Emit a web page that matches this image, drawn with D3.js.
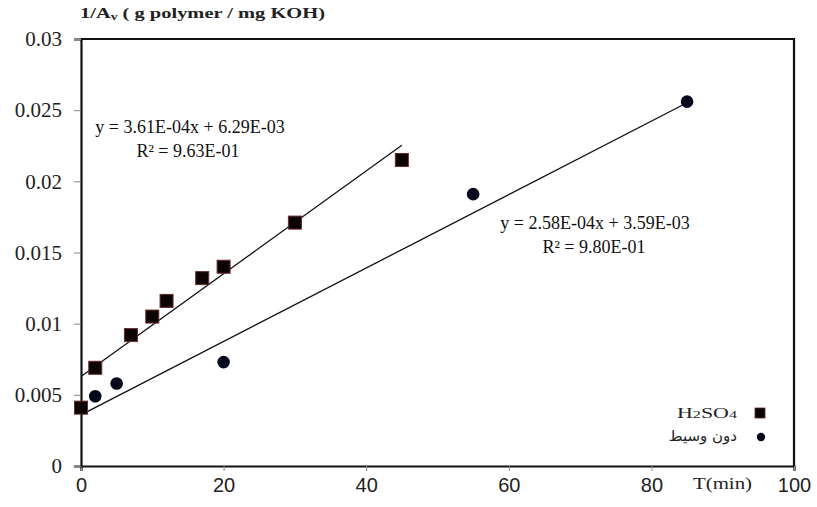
<!DOCTYPE html>
<html>
<head>
<meta charset="utf-8">
<script src="https://cdn.jsdelivr.net/npm/d3@7/dist/d3.min.js"></script>
<style>
  body { margin: 0; background: #fff; }
  svg { display: block; }
</style>
</head>
<body>
<svg id="chart" width="817" height="507"></svg>
<script>
// data
var acidX = [0, 2, 7, 10, 12, 17, 20, 30, 45];
var acidY = [0.0041, 0.0069, 0.0092, 0.0105, 0.0116, 0.0132, 0.0140, 0.0171, 0.0215];
var plainX = [0, 2, 5, 20, 55, 85];
var plainY = [0.0041, 0.0049, 0.0058, 0.0073, 0.0191, 0.0256];

// trend lines: [slope, intercept, xFrom, xTo]
var acidFit = [3.61e-4, 6.29e-3, 0, 45];
var plainFit = [2.58e-4, 3.59e-3, 0, 85];

var xTicks = [0, 20, 40, 60, 80, 100];
var yTicks = [0, 0.005, 0.01, 0.015, 0.02, 0.025, 0.03];
var seriesNames = ["H2SO4", "دون وسيط"];

var svg = d3.select("#chart");
var margin = {left: 81, right: 23, top: 39, bottom: 41};
var W = 817, H = 507;
var serif = "Liberation Serif, Times New Roman, serif";

var x = d3.scaleLinear().domain([0, 100]).range([margin.left, W - margin.right]);
var y = d3.scaleLinear().domain([0, 0.03]).range([H - margin.bottom, margin.top]);

// frame (top + right)
svg.append("path")
  .attr("d", `M ${x(0)},${y(0.03)} H ${x(100)} V ${y(0)}`)
  .attr("fill", "none").attr("stroke", "#111").attr("stroke-width", 2.2);

// axes
var xAxis = svg.append("g")
  .attr("transform", `translate(0,${y(0)})`)
  .call(d3.axisBottom(x).tickValues(xTicks).tickSize(5).tickPadding(7).tickFormat(d3.format("d")));
xAxis.select(".domain").attr("stroke", "#111").attr("stroke-width", 2.2);
xAxis.selectAll(".tick line").attr("stroke", "#888");
xAxis.selectAll(".tick text")
  .attr("font-family", "Liberation Sans, Arial, sans-serif")
  .attr("font-size", 20).attr("fill", "#222");

var yAxis = svg.append("g")
  .attr("transform", `translate(${x(0)},0)`)
  .call(d3.axisLeft(y).tickValues(yTicks).tickSize(7).tickPadding(12).tickFormat(function(d) { return String(+d.toFixed(3)); }));
yAxis.select(".domain").attr("stroke", "#111").attr("stroke-width", 2.2);
yAxis.selectAll(".tick line").attr("stroke", "#888");
yAxis.selectAll(".tick text")
  .attr("font-family", serif)
  .attr("font-size", 21).attr("fill", "#222");

// trend lines
[acidFit, plainFit].forEach(function(f) {
  svg.append("line")
    .attr("x1", x(f[2])).attr("y1", y(f[1] + f[0] * f[2]))
    .attr("x2", x(f[3])).attr("y2", y(f[1] + f[0] * f[3]))
    .attr("stroke", "#111").attr("stroke-width", 1.3);
});

// points
var acidPts = d3.zip(acidX, acidY);
var plainPts = d3.zip(plainX, plainY);

svg.append("g").selectAll("circle").data(plainPts).join("circle")
  .attr("cx", function(d) { return x(d[0]); })
  .attr("cy", function(d) { return y(d[1]); })
  .attr("r", 6.3)
  .attr("fill", "#05081a");

svg.append("g").selectAll("rect").data(acidPts).join("rect")
  .attr("x", function(d) { return x(d[0]) - 6.5; })
  .attr("y", function(d) { return y(d[1]) - 6.5; })
  .attr("width", 13).attr("height", 13)
  .attr("fill", "#0c0404").attr("stroke", "#6a2a2a").attr("stroke-width", 1);

// equations
function eqText(cx, yy, txt) {
  svg.append("text").attr("x", cx).attr("y", yy)
    .attr("text-anchor", "middle")
    .attr("font-family", serif).attr("font-size", 18).attr("fill", "#111")
    .text(txt);
}
function fmtE(v) {
  var s = v.toExponential(2).toUpperCase();
  return s.replace(/E([+-])(\d)$/, "E$10$2");
}
eqText(190, 133, `y = ${fmtE(acidFit[0])}x + ${fmtE(acidFit[1])}`);
eqText(188, 157, `R² = 9.63E-01`);
eqText(595, 229, `y = ${fmtE(plainFit[0])}x + ${fmtE(plainFit[1])}`);
eqText(594, 253, `R² = 9.80E-01`);

// y title
var title = svg.append("text").attr("x", 80).attr("y", 18)
  .attr("font-family", serif).attr("font-size", 15).attr("font-weight", "bold").attr("fill", "#222")
  .attr("textLength", 245).attr("lengthAdjust", "spacingAndGlyphs");
title.append("tspan").text("1/A");
title.append("tspan").attr("font-size", 10).attr("dy", 2).text("v");
title.append("tspan").attr("dy", -2).text(" ( g polymer / mg KOH)");

// x title
svg.append("text").attr("x", 693).attr("y", 489)
  .attr("font-family", serif).attr("font-size", 16).attr("fill", "#222")
  .attr("textLength", 59).attr("lengthAdjust", "spacingAndGlyphs")
  .text("T(min)");

// legend
var lg = svg.append("g");
var h2 = lg.append("text").attr("x", 677).attr("y", 418)
  .attr("font-family", serif).attr("font-size", 15).attr("fill", "#222")
  .attr("textLength", 60).attr("lengthAdjust", "spacingAndGlyphs");
h2.append("tspan").text("H");
h2.append("tspan").attr("font-size", 11).text("2");
h2.append("tspan").text("SO");
h2.append("tspan").attr("font-size", 11).text("4");
lg.append("rect").attr("x", 755).attr("y", 408).attr("width", 10).attr("height", 10)
  .attr("fill", "#0c0404").attr("stroke", "#6a2a2a").attr("stroke-width", 0.8);

lg.append("text").attr("x", 737).attr("y", 441).attr("text-anchor", "end")
  .attr("font-family", "DejaVu Sans, Noto Sans, sans-serif").attr("font-size", 15).attr("fill", "#222")
  .text(seriesNames[1]);
lg.append("circle").attr("cx", 761).attr("cy", 437).attr("r", 4.2)
  .attr("fill", "#05081a");
</script>
</body>
</html>
